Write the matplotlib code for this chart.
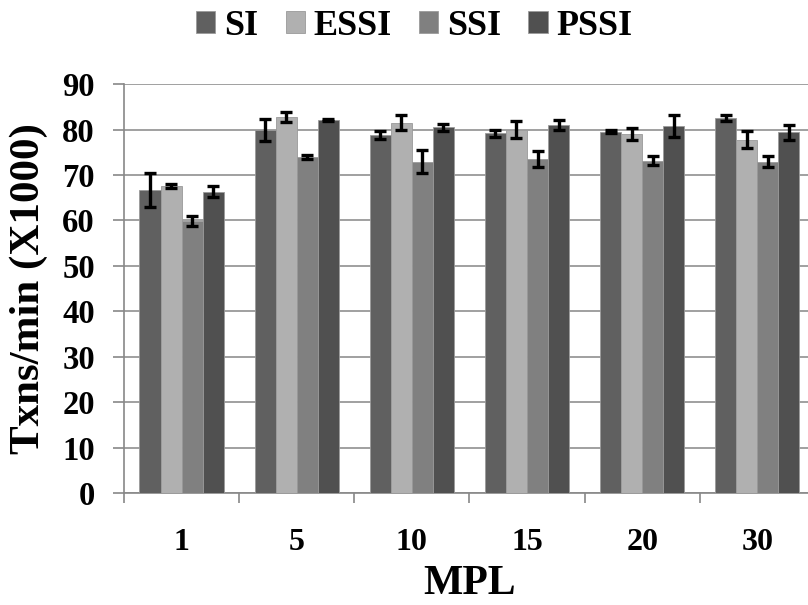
import matplotlib
matplotlib.use("Agg")
import matplotlib.pyplot as plt
import numpy as np

categories = ["1", "5", "10", "15", "20", "30"]
series_names = ["SI", "ESSI", "SSI", "PSSI"]
si = [66.7, 79.9, 78.8, 79.2, 79.5, 82.6]
essi = [67.6, 82.8, 81.5, 80.0, 79.0, 77.8]
ssi = [59.9, 74.0, 72.9, 73.5, 73.1, 72.9]
pssi = [66.3, 82.1, 80.5, 81.0, 80.8, 79.4]
si_err = [3.7, 2.4, 0.9, 0.8, 0.3, 0.7]
essi_err = [0.4, 1.1, 1.7, 1.8, 1.4, 1.8]
ssi_err = [1.1, 0.4, 2.5, 1.8, 1.0, 1.2]
pssi_err = [1.2, 0.3, 0.8, 1.2, 2.4, 1.6]
colors = ["#606060", "#b0b0b0", "#808080", "#505050"]

plt.rcParams['font.family'] = ['Liberation Serif', 'DejaVu Serif']
plt.rcParams['font.weight'] = 'bold'

fig = plt.figure(figsize=(8.08, 6.05), dpi=100)
ax = fig.add_axes([0.1535, 0.185, 0.855, 0.676])

values = [si, essi, ssi, pssi]
errs = [si_err, essi_err, ssi_err, pssi_err]
x = np.arange(len(categories))
w = 0.183
for i, (name, v, e, c) in enumerate(zip(series_names, values, errs, colors)):
    ax.bar(x + (i - 1.5) * w, v, w, color=c, label=name, zorder=3,
           edgecolor="#9a9a9a", linewidth=0.6,
           yerr=e, error_kw=dict(ecolor="black", elinewidth=2.4, capsize=4.5, capthick=2.4, zorder=4))

ax.set_ylim(0, 90)
ax.set_yticks(np.arange(0, 91, 10))
ax.set_xlim(-0.5, len(categories) - 0.5)
ax.set_xticks(x)
ax.set_xticklabels(categories)
ax.set_xticks(np.arange(-0.5, len(categories), 1), minor=True)
ax.tick_params(axis='x', which='major', length=0, pad=25, labelsize=23)
ax.tick_params(axis='x', which='minor', length=7.5, color="#888888", width=1.2)
ax.tick_params(axis='y', length=8, color="#888888", width=1.2, labelsize=23.5, pad=13, direction='out')
for lbl in ax.get_xticklabels() + ax.get_yticklabels():
    lbl.set_fontweight('bold')
ax.yaxis.grid(True, color="#999999", linewidth=1.3, zorder=0)
ax.set_axisbelow(True)
for s in ['top', 'right']:
    ax.spines[s].set_visible(False)
ax.spines['left'].set_color("#888888")
ax.spines['bottom'].set_color("#888888")
ax.spines['left'].set_linewidth(1.2)
ax.spines['bottom'].set_linewidth(1.2)

ax.set_ylabel("Txns/min (X1000)", fontsize=31, fontweight='bold', labelpad=10)
ax.set_xlabel("MPL", fontsize=30, fontweight='bold', labelpad=6)

handles, labels = ax.get_legend_handles_labels()
fig.legend(handles, labels, loc='upper center', bbox_to_anchor=(0.513, 1.038), ncol=4,
           frameon=False, prop=dict(size=26, weight='bold'), handlelength=0.53,
           handleheight=0.55, handletextpad=0.25, columnspacing=0.75)

fig.savefig("out.png", dpi=100)
